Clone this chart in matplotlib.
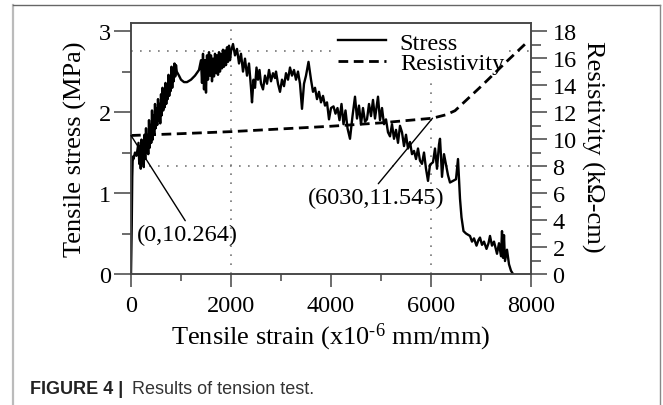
import matplotlib
matplotlib.use("Agg")
import matplotlib.pyplot as plt
from matplotlib.lines import Line2D
from matplotlib.ticker import MultipleLocator

plt.rcParams['font.family'] = ['Liberation Serif', 'DejaVu Serif']
plt.rcParams['mathtext.fontset'] = 'custom'
plt.rcParams['mathtext.rm'] = 'Liberation Serif'
plt.rcParams['mathtext.it'] = 'Liberation Serif:italic'

# stress-strain readings (strain in x10^-6 mm/mm, stress in MPa)
# initial jump
strain_a = [0, 15, 25, 35, 50, 80, 110]
stress_a = [0.0, 0.6, 1.2, 1.45, 1.42, 1.5, 1.46]
# noisy rise
strain_b = [150, 165, 180, 195, 210, 225, 240, 255, 270, 285,
            300, 315, 330, 345, 360, 375, 390, 405, 420, 435,
            450, 465, 480, 495, 510, 525, 540, 555, 570, 585,
            600, 615, 630, 645, 660, 675, 690, 705, 720, 735,
            750, 765, 780, 795, 810, 825, 840, 855, 870, 885,
            900, 915]
stress_b = [1.62, 1.36, 1.58, 1.30, 1.66, 1.40, 1.52, 1.32, 1.72, 1.42,
            1.80, 1.50, 1.70, 1.48, 1.90, 1.56, 1.84, 1.62, 2.02, 1.66,
            1.96, 1.72, 2.10, 1.80, 2.04, 1.84, 2.16, 1.90, 2.10, 1.86,
            2.22, 1.96, 2.30, 2.02, 2.24, 2.06, 2.36, 2.10, 2.32, 2.16,
            2.46, 2.20, 2.40, 2.26, 2.56, 2.30, 2.52, 2.38, 2.60, 2.44,
            2.58, 2.50]
# plateau, peak and softening
strain_c = [960, 1000, 1060, 1120, 1200, 1280, 1360,
            1400, 1420, 1440, 1460, 1480, 1500, 1520, 1540, 1560, 1580, 1600, 1620,
            1640, 1660, 1680, 1700, 1720, 1740, 1760, 1780, 1800, 1820, 1840, 1860,
            1880, 1900, 1920, 1940, 1960, 1980, 2000, 2040, 2080, 2120, 2160, 2200,
            2240, 2280, 2320, 2360, 2400, 2420, 2450, 2480, 2510, 2540, 2570, 2600,
            2640, 2680, 2720, 2760, 2800, 2840, 2880, 2900, 2940, 2980, 3020, 3060,
            3100, 3140, 3180, 3220, 3260, 3300, 3340, 3380, 3420, 3460, 3500, 3550,
            3600, 3640, 3680, 3720, 3760, 3800, 3840, 3880, 3920, 3960, 4000, 4050,
            4090, 4130, 4170, 4210, 4250, 4290, 4330, 4380, 4430, 4480, 4520, 4560,
            4600, 4640, 4680, 4720, 4760, 4800, 4840, 4880, 4940, 4980, 5020, 5060,
            5100, 5140, 5180, 5220, 5260, 5300, 5340, 5380, 5420, 5460, 5500, 5540,
            5580, 5620, 5660, 5700, 5740, 5780, 5820, 5860, 5900, 5940, 5980, 6040,
            6080, 6120, 6160, 6180, 6200, 6220, 6260, 6300, 6340, 6380, 6440, 6500,
            6540, 6580, 6610, 6650, 6700, 6780, 6820, 6860, 6910, 6950, 6980, 7020,
            7060, 7110, 7150, 7180, 7220, 7260, 7320, 7360, 7400, 7420, 7440, 7460,
            7480, 7520, 7560, 7600, 7640]
stress_c = [2.45, 2.40, 2.37, 2.37, 2.40, 2.45, 2.52,
            2.64, 2.36, 2.72, 2.28, 2.64, 2.24, 2.70, 2.40, 2.74, 2.45, 2.70, 2.38,
            2.66, 2.44, 2.72, 2.48, 2.70, 2.46, 2.74, 2.50, 2.72, 2.54, 2.77, 2.56,
            2.76, 2.58, 2.80, 2.62, 2.82, 2.64, 2.75, 2.84, 2.70, 2.78, 2.60, 2.72,
            2.50, 2.66, 2.45, 2.60, 2.30, 2.12, 2.40, 2.30, 2.55, 2.40, 2.52, 2.35,
            2.28, 2.45, 2.35, 2.52, 2.38, 2.48, 2.42, 2.50, 2.35, 2.25, 2.40, 2.32,
            2.48, 2.40, 2.55, 2.45, 2.52, 2.40, 2.50, 2.35, 2.04, 2.35, 2.45, 2.62,
            2.40, 2.25, 2.30, 2.16, 2.25, 2.12, 2.20, 2.08, 2.12, 1.91, 2.05, 2.07,
            1.98, 2.05, 1.90, 2.10, 1.85, 2.02, 1.80, 1.67, 1.95, 2.19, 1.92, 2.08,
            1.85, 2.05, 1.88, 1.91, 2.10, 1.95, 2.15, 1.92, 2.19, 1.90, 2.05, 1.85,
            1.91, 1.75, 1.70, 1.85, 1.67, 1.78, 1.62, 1.83, 1.75, 1.58, 1.72, 1.55,
            1.63, 1.48, 1.52, 1.42, 1.55, 1.40, 1.36, 1.50, 1.30, 1.15, 1.35, 1.38,
            1.55, 1.30, 1.60, 1.67, 1.45, 1.20, 1.48, 1.35, 1.22, 1.13, 1.15, 1.17,
            1.42, 0.93, 0.70, 0.53, 0.50, 0.47, 0.40, 0.44, 0.35, 0.42, 0.45, 0.36,
            0.40, 0.31, 0.38, 0.47, 0.35, 0.40, 0.25, 0.38, 0.22, 0.53, 0.20, 0.48,
            0.16, 0.30, 0.12, 0.04, 0.0]

strain = strain_a + strain_b + strain_c
stress = stress_a + stress_b + stress_c

# resistivity readings (kOhm-cm)
res_strain = [0, 1000, 2000, 3000, 4000, 5000, 6030, 6300, 6480, 7000, 7500, 7900]
resistivity = [10.264, 10.4, 10.55, 10.75, 10.95, 11.2, 11.545, 11.8, 12.1, 13.9, 15.7, 17.1]

fig = plt.figure(figsize=(6.63, 4.06), dpi=100)
ax = fig.add_axes([131/663, 131/406, 400/663, 251/406])
ax2 = ax.twinx()

spine_c = '#444444'
for a in (ax, ax2):
    for s in a.spines.values():
        s.set_color(spine_c)
        s.set_linewidth(1.1)

# dotted guide lines
dot = dict(color='#777777', lw=1.2, linestyle=(0, (1, 4.4)), zorder=0)
ax.axvline(2000, **dot)
ax.axvline(6000, **dot)
ax.axhline(2.75, **dot)
ax.axhline(8 / 6, **dot)

ax.plot(strain, stress, color='black', lw=1.7, label='Stress', zorder=2)
ax.plot([], [], color='black', lw=2, dashes=(3.5, 2), label='Resistivity')
ax2.plot(res_strain, resistivity, color='black', lw=2, dashes=(3.5, 2))

ax.set_xlim(0, 8000)
ax.set_ylim(0, 3.1)
ax2.set_ylim(0, 18.6)

ax.xaxis.set_major_locator(MultipleLocator(2000))
ax.xaxis.set_minor_locator(MultipleLocator(1000))
ax.yaxis.set_major_locator(MultipleLocator(1))
ax.yaxis.set_minor_locator(MultipleLocator(0.5))
ax2.yaxis.set_major_locator(MultipleLocator(2))
ax2.yaxis.set_minor_locator(MultipleLocator(1))

fs_tick = 17.5
ax.tick_params(axis='x', which='major', length=9.4, width=1.1, color=spine_c, labelsize=fs_tick, pad=6)
ax.tick_params(axis='x', which='minor', length=5, width=1.1, color=spine_c)
ax.tick_params(axis='y', which='major', length=12.5, width=1.1, color=spine_c, labelsize=fs_tick, pad=2)
ax.tick_params(axis='y', which='minor', length=6.5, width=1.1, color=spine_c)
ax2.tick_params(axis='y', which='major', length=11.5, width=1.1, color=spine_c, labelsize=fs_tick, pad=4)
ax2.tick_params(axis='y', which='minor', length=7, width=1.1, color=spine_c)

ax.set_xlabel('Tensile strain (x10$^{\\text{-6}}$ mm/mm)', fontsize=19)
ax.xaxis.set_label_coords(0.5, -0.185)
ax.set_ylabel('Tensile stress (MPa)', fontsize=19)
ax.yaxis.set_label_coords(-0.11, 0.5)
ax2.set_ylabel('Resistivity (k\u03a9-cm)', fontsize=19, rotation=270, va='center')
ax2.yaxis.set_label_coords(1.155, 0.51)

leg = ax.legend(loc='upper left', bbox_to_anchor=(0.505, 0.985), fontsize=fs_tick,
                frameon=True, facecolor='white', edgecolor='none', framealpha=1,
                fancybox=False, borderpad=0.2, borderaxespad=0, handlelength=2.0,
                handletextpad=0.55, labelspacing=-0.05)
leg.set_zorder(5)

ax2.annotate('(0,10.264)', xy=(0, 10.264), xytext=(1120, 2.96), textcoords='data',
             fontsize=fs_tick, ha='center', va='center',
             arrowprops=dict(arrowstyle='-', color='black', lw=1, relpos=(0.5, 1.0),
                             shrinkA=0, shrinkB=0))
ax2.annotate('(6030,11.545)', xy=(6030, 11.545), xytext=(4900, 5.7), textcoords='data',
             fontsize=fs_tick, ha='center', va='center',
             arrowprops=dict(arrowstyle='-', color='black', lw=1, relpos=(0.5, 1.0),
                             shrinkA=0, shrinkB=0))

# page frame and caption
fig.add_artist(Line2D([13/663, 13/663], [0, 1 - 6/406], color='#bbbbbb', lw=1.6))
fig.add_artist(Line2D([13/663, 660/663], [1 - 6/406, 1 - 6/406], color='#666666', lw=1))
fig.add_artist(Line2D([660/663, 660/663], [0, 1 - 6/406], color='#888888', lw=1))
fig.text(30/663, 16/406, 'FIGURE 4 |', fontsize=13, fontweight='bold',
         family='Liberation Sans', color='#222222', va='center')
fig.text(132/663, 16/406, 'Results of tension test.', fontsize=13,
         family='Liberation Sans', color='#333333', va='center')

fig.savefig('out.png', dpi=100, facecolor='white')
